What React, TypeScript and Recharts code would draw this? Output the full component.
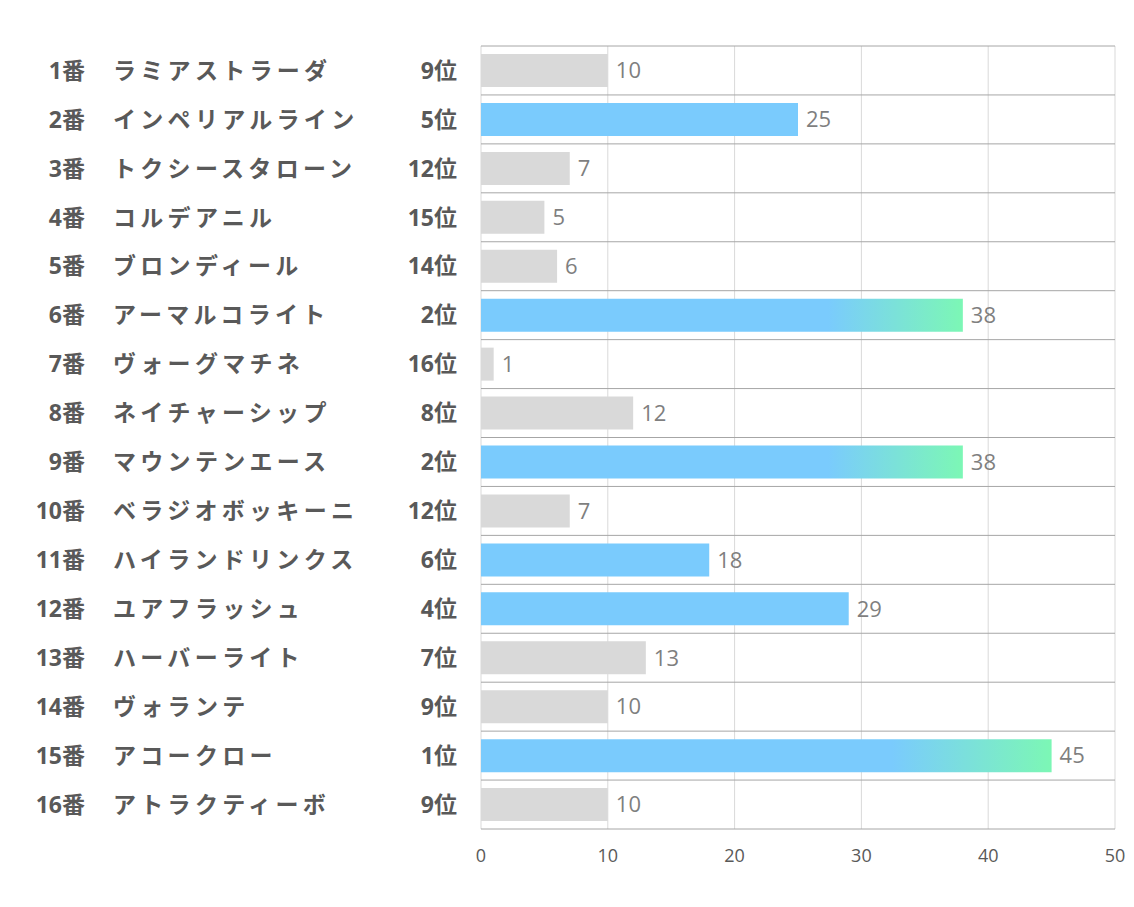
import { BarChart, Bar, XAxis, YAxis, CartesianGrid, Cell, LabelList } from "recharts";

const horseNos = ["1番", "2番", "3番", "4番", "5番", "6番", "7番", "8番", "9番", "10番", "11番", "12番", "13番", "14番", "15番", "16番"];
const horseNames = [
    "ラミアストラーダ", "インペリアルライン", "トクシースタローン", "コルデアニル",
    "ブロンディール", "アーマルコライト", "ヴォーグマチネ", "ネイチャーシップ",
    "マウンテンエース", "ベラジオボッキーニ", "ハイランドリンクス", "ユアフラッシュ",
    "ハーバーライト", "ヴォランテ", "アコークロー", "アトラクティーボ",
];
const scores = [10, 25, 7, 5, 6, 38, 1, 12, 38, 7, 18, 29, 13, 10, 45, 10];
const ranks = [9, 5, 12, 15, 14, 2, 16, 8, 2, 12, 6, 4, 7, 9, 1, 9];
const xTicks = [0, 10, 20, 30, 40, 50];

const data = horseNos.map((no, i) => ({
    no,
    name: horseNames[i],
    score: scores[i],
    rank: ranks[i],
}));

const FONT = "'Open Sans', 'Noto Sans CJK JP', sans-serif";

function barFill(rank: number) {
    if (rank <= 3) return "url(#topGrad)";
    if (rank <= 6) return "#7acbfd";
    return "#d9d9d9";
}

function HorseTick(props: any) {
    const { y, payload } = props;
    const row = data.find((d) => d.no === payload.value);
    if (!row) return null;
    const style = { fontFamily: FONT, fontSize: 23, fontWeight: 700, fill: "#595959" };
    return (
        <g>
            <text x={85} y={y} dy="0.36em" textAnchor="end" style={style}>{row.no}</text>
            <text x={113} y={y} dy="0.36em" textAnchor="start" style={{ ...style, letterSpacing: 4.3 }}>{row.name}</text>
            <text x={457} y={y} dy="0.36em" textAnchor="end" style={style}>{row.rank}位</text>
        </g>
    );
}

export default function App() {
    return (
        <div style={{ position: "absolute", left: 0, top: 0 }}>
            <BarChart
                width={1134}
                height={907}
                data={data}
                layout="vertical"
                margin={{ top: 46, right: 19, bottom: 48, left: 0 }}
                barSize={33}
            >
                <defs>
                    <linearGradient id="topGrad" x1="0" y1="0" x2="1" y2="0">
                        <stop offset="0" stopColor="#7acbfd" />
                        <stop offset="0.72" stopColor="#7acbfd" />
                        <stop offset="1" stopColor="#7cf7b5" />
                    </linearGradient>
                </defs>
                <CartesianGrid horizontal={false} stroke="#d9d9d9" strokeWidth={1} />
                <CartesianGrid
                    vertical={false}
                    stroke="#a6a6a6"
                    strokeWidth={1}
                    horizontalCoordinatesGenerator={({ offset }: any) =>
                        Array.from({ length: data.length + 1 }, (_, i) => offset.top + (i * offset.height) / data.length)
                    }
                />
                <XAxis
                    type="number"
                    domain={[0, 50]}
                    ticks={xTicks}
                    height={30}
                    axisLine={false}
                    tickLine={false}
                    tickSize={0}
                    tickMargin={20}
                    tick={{ fontFamily: FONT, fontSize: 18, fill: "#595959" }}
                />
                <YAxis
                    type="category"
                    dataKey="no"
                    width={481}
                    axisLine={false}
                    tickLine={false}
                    tick={<HorseTick />}
                    interval={0}
                />
                <Bar dataKey="score" isAnimationActive={false}>
                    {data.map((d, i) => (
                        <Cell key={i} fill={barFill(d.rank)} />
                    ))}
                    <LabelList
                        dataKey="score"
                        position="right"
                        offset={8}
                        style={{ fontFamily: FONT, fontSize: 22, fill: "#7f7f7f" }}
                    />
                </Bar>
            </BarChart>
        </div>
    );
}
